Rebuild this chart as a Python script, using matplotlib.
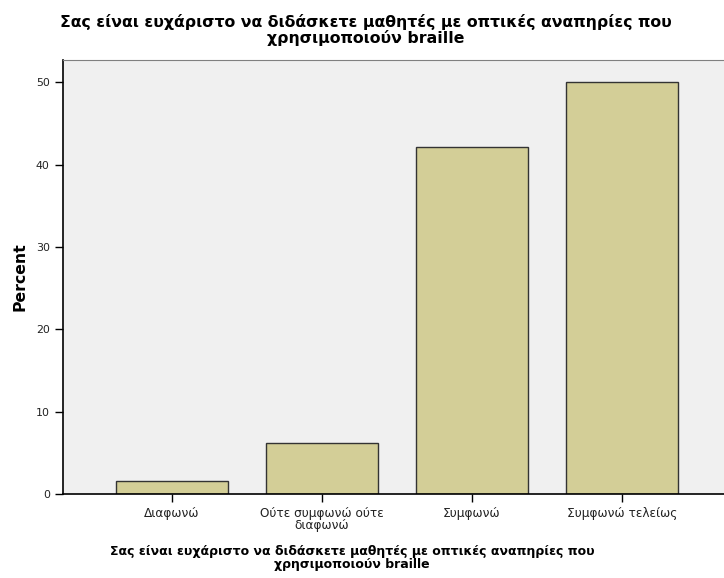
import matplotlib.pyplot as plt
import numpy as np

plt.rcParams['font.family'] = ['DejaVu Sans']

labels = ['Διαφωνώ', 'Ούτε συμφωνώ ούτε\nδιαφωνώ', 'Συμφωνώ', 'Συμφωνώ τελείως']
percent = [1.5625, 6.25, 42.1875, 50.0]
title = 'Σας είναι ευχάριστο να διδάσκετε μαθητές με οπτικές αναπηρίες που\nχρησιμοποιούν braille'

x = np.arange(len(labels))

fig = plt.figure(figsize=(7.24, 5.78), dpi=100)
ax = fig.add_axes([63 / 724, 1 - 494 / 578, 1 - 63 / 724, (494 - 60) / 578])
ax.set_facecolor('#f0f0f0')

ax.bar(x, percent, width=0.75, color='#d3ce97', edgecolor='#333333', linewidth=1.0, zorder=2)

ax.set_xlim(-0.727, 3.68)
ax.set_ylim(0, 52.7)
ax.set_yticks(np.arange(0, 51, 10))
ax.set_xticks(x)
ax.set_xticklabels(labels, fontsize=8.7, linespacing=0.95, color='#222222')
ax.tick_params(axis='y', labelsize=7.9, length=6, width=1, direction='out', labelcolor='#222222')
ax.tick_params(axis='x', length=6, width=1, direction='out', pad=3)

for s in ['left', 'bottom']:
    ax.spines[s].set_color('black')
    ax.spines[s].set_linewidth(1.2)
ax.spines['top'].set_color('#808080')
ax.spines['right'].set_visible(False)

ax.set_ylabel('Percent', fontsize=11.3, fontweight='bold', labelpad=6)

fig.text(366 / 724, 1 - 14 / 578, title, ha='center', va='top', fontsize=11.35,
         fontweight='bold', linespacing=0.98)
fig.text(352 / 724, 1 - 545 / 578, title, ha='center', va='top', fontsize=9.0,
         fontweight='bold', linespacing=0.98)

fig.savefig('out.png', dpi=100)
